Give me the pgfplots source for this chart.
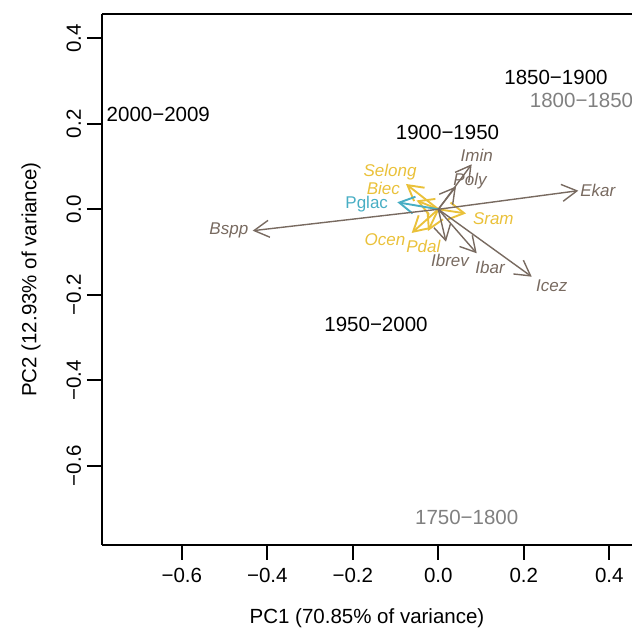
\documentclass[border=0pt]{standalone}
\usepackage{fontspec}
\setmainfont{Liberation Sans}
\usepackage{pgfplots}
\pgfplotsset{compat=1.18}
\usetikzlibrary{arrows.meta}

\definecolor{ld}{RGB}{120,106,96}
\definecolor{yel}{RGB}{234,193,58}
\definecolor{tl}{RGB}{72,174,196}
\definecolor{gry}{RGB}{128,128,128}

\begin{document}
\begin{tikzpicture}[
  spp/.style={font=\fontsize{8.5}{9}\selectfont\itshape, text=ld, inner sep=0pt},
  per/.style={font=\fontsize{10.25}{12}\selectfont, inner sep=0pt},
  arr/.style={-{Straight Barb[length=7.5pt,width=8.5pt]}},
]
\begin{axis}[
  name=ax,
  width=265pt, height=265.2pt, scale only axis,
  xmin=-0.7867, xmax=0.4531, ymin=-0.7846, ymax=0.4561,
  axis x line=box, axis y line=left,
  axis line style={-, line width=1pt},
  xtick pos=left, ytick pos=left,
  tick align=outside,
  major tick length=7.5pt,
  every tick/.style={black, line width=1pt},
  xtick={-0.6,-0.4,-0.2,0,0.2,0.4},
  xticklabels={−0.6,−0.4,−0.2,0.0,0.2,0.4},
  ytick={-0.6,-0.4,-0.2,0,0.2,0.4},
  yticklabels={−0.6,−0.4,−0.2,0.0,0.2,0.4},
  ticklabel style={font=\fontsize{10.25}{12}\selectfont, inner sep=0pt},
  xticklabel style={anchor=north},
  yticklabel style={rotate=90, anchor=south},
  xticklabel shift=4pt, yticklabel shift=2.8pt,
  xlabel={PC1 (70.85\% of variance)},
  ylabel={PC2 (12.93\% of variance)},
  label style={font=\fontsize{10.25}{12}\selectfont, inner sep=0pt},
  xlabel style={at={(rel axis cs:0.5,0)}, anchor=center, yshift=-36.8pt},
  ylabel style={at={([xshift=-35.5pt]rel axis cs:0,0.5)}, anchor=center},
  clip=false,
]
% loadings: yellow group
\addplot[yel, line width=0.95pt, arr] coordinates {(0,0) (-0.0756,0.0592)};
\addplot[yel, line width=0.95pt, arr] coordinates {(0,0) (-0.0510,0.0206)};
\addplot[yel, line width=0.95pt, arr] coordinates {(0,0) (-0.0622,-0.0554)};
\addplot[yel, line width=0.95pt, arr] coordinates {(0,0) (-0.0241,-0.0508)};
\addplot[yel, line width=0.95pt, arr] coordinates {(0,0) (0.0648,-0.0098)};
% teal
\addplot[tl, line width=0.95pt, arr] coordinates {(0,0) (-0.0959,0.0164)};
% grey-brown group
\addplot[ld, line width=0.7pt, arr] coordinates {(0,0) (0.3275,0.0435)};
\addplot[ld, line width=0.7pt, arr] coordinates {(0,0) (-0.4342,-0.0501)};
\addplot[ld, line width=0.7pt, arr] coordinates {(0,0) (0.2185,-0.1577)};
\addplot[ld, line width=0.7pt, arr] coordinates {(0,0) (0.0898,-0.1029)};
\addplot[ld, line width=0.7pt, arr] coordinates {(0,0) (0.0180,-0.0758)};
\addplot[ld, line width=0.7pt, arr] coordinates {(0,0) (0.0781,0.1053)};
\addplot[ld, line width=0.7pt, arr] coordinates {(0,0) (0.0414,0.0533)};

% species labels
\node[spp] at (axis cs:0.373,0.044) {Ekar};
\node[spp] at (axis cs:-0.490,-0.050) {Bspp};
\node[spp] at (axis cs:0.2653,-0.1787) {Icez};
\node[spp] at (axis cs:0.121,-0.1366) {Ibar};
\node[spp] at (axis cs:0.0274,-0.1202) {Ibrev};
\node[spp] at (axis cs:0.0898,0.127) {Imin};
\node[spp] at (axis cs:0.0742,0.0669) {Poly};
\node[spp, text=yel] at (axis cs:0.1287,-0.0211) {Sram};
\node[spp, text=yel] at (axis cs:-0.113,0.088) {Selong};
\node[spp, text=yel] at (axis cs:-0.1287,0.0491) {Biec};
\node[spp, text=yel] at (axis cs:-0.1247,-0.0718) {Ocen};
\node[spp, text=yel] at (axis cs:-0.0351,-0.0858) {Pdal};
\node[spp, text=tl, font=\fontsize{8.5}{9}\selectfont\upshape] at (axis cs:-0.1675,0.0124) {Pglac};

% period scores
\node[per] at (axis cs:-0.655,0.223) {2000−2009};
\node[per] at (axis cs:0.2753,0.3095) {1850−1900};
\node[per, text=gry] at (axis cs:0.335,0.254) {1800−1850};
\node[per] at (axis cs:0.0215,0.1792) {1900−1950};
\node[per] at (axis cs:-0.1457,-0.2683) {1950−2000};
\node[per, text=gry] at (axis cs:0.0664,-0.7205) {1750−1800};
\end{axis}
\pgfresetboundingbox
\path[use as bounding box] ([xshift=-51pt,yshift=-42.15pt]ax.south west) rectangle ([yshift=7.15pt]ax.north east);
\end{tikzpicture}
\end{document}
